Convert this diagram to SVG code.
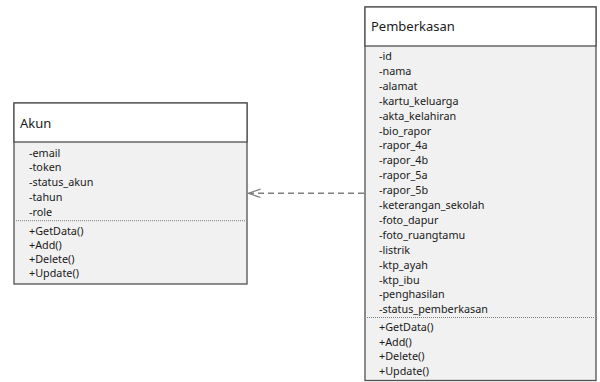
<svg xmlns="http://www.w3.org/2000/svg" width="600" height="382" viewBox="0 0 600 382">
<style>
.hdr{fill:#ffffff;stroke:#505050;stroke-width:1.3}
.body{fill:#f1f1f1;stroke:#505050;stroke-width:1.3}
.sep{stroke:#7a7a7a;stroke-width:1;stroke-dasharray:1 1}
.title{font-family:"Noto Sans",sans-serif;font-size:13px;fill:#1a1a1a}
.item{font-family:"Noto Sans",sans-serif;font-size:10.8px;fill:#1a1a1a}
.conn{stroke:#7f7f7f;stroke-width:1.5;fill:none}
</style>
<defs>
<marker id="open" markerWidth="16" markerHeight="12" refX="14" refY="6" orient="auto" markerUnits="userSpaceOnUse">
<path d="M2,1.8 L14,6 L2,10.2" fill="none" stroke="#7f7f7f" stroke-width="1.3"/>
</marker>
</defs>
<rect width="600" height="382" fill="#ffffff"/>
<g id="akun">
<rect class="body" x="14" y="103" width="233" height="181"/>
<rect class="hdr" x="14" y="103" width="233" height="39"/>
<text class="title" x="20" y="128">Akun</text>
<text class="item" x="29" y="156.5">-email</text>
<text class="item" x="29" y="171.4">-token</text>
<text class="item" x="29" y="186.3">-status_akun</text>
<text class="item" x="29" y="201.2">-tahun</text>
<text class="item" x="29" y="216.1">-role</text>
<line class="sep" x1="16" y1="220.7" x2="245" y2="220.7"/>
<text class="item" x="29" y="235">+GetData()</text>
<text class="item" x="29" y="249">+Add()</text>
<text class="item" x="29" y="263">+Delete()</text>
<text class="item" x="29" y="277">+Update()</text>
</g>
<g id="pemberkasan">
<rect class="body" x="365" y="7" width="231" height="373.5"/>
<rect class="hdr" x="365" y="7" width="231" height="39"/>
<text class="title" x="371" y="31">Pemberkasan</text>
<text class="item" x="379" y="60">-id</text>
<text class="item" x="379" y="74.9">-nama</text>
<text class="item" x="379" y="89.8">-alamat</text>
<text class="item" x="379" y="104.7">-kartu_keluarga</text>
<text class="item" x="379" y="119.6">-akta_kelahiran</text>
<text class="item" x="379" y="134.5">-bio_rapor</text>
<text class="item" x="379" y="149.4">-rapor_4a</text>
<text class="item" x="379" y="164.3">-rapor_4b</text>
<text class="item" x="379" y="179.2">-rapor_5a</text>
<text class="item" x="379" y="194.1">-rapor_5b</text>
<text class="item" x="379" y="209">-keterangan_sekolah</text>
<text class="item" x="379" y="223.9">-foto_dapur</text>
<text class="item" x="379" y="238.8">-foto_ruangtamu</text>
<text class="item" x="379" y="253.7">-listrik</text>
<text class="item" x="379" y="268.6">-ktp_ayah</text>
<text class="item" x="379" y="283.5">-ktp_ibu</text>
<text class="item" x="379" y="298.4">-penghasilan</text>
<text class="item" x="379" y="313.3">-status_pemberkasan</text>
<line class="sep" x1="367" y1="317.5" x2="594" y2="317.5"/>
<text class="item" x="379" y="330.7">+GetData()</text>
<text class="item" x="379" y="345.5">+Add()</text>
<text class="item" x="379" y="360.3">+Delete()</text>
<text class="item" x="379" y="375.1">+Update()</text>
</g>
<g id="connectors">
<line class="conn" x1="364" y1="193.3" x2="248.5" y2="193.3" stroke-dasharray="6 4" marker-end="url(#open)"/>
</g>
</svg>
